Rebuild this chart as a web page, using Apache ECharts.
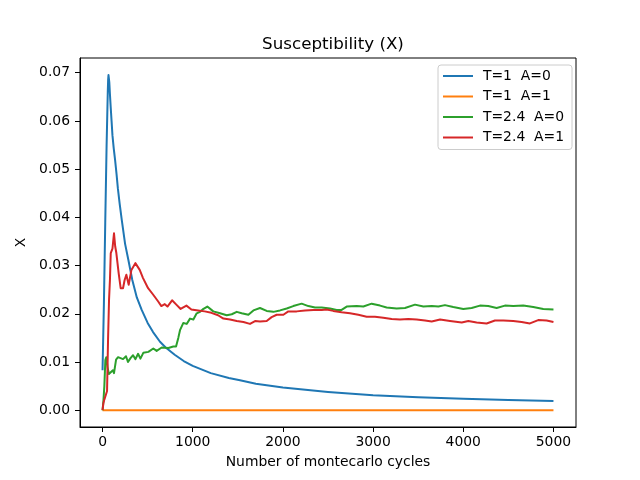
<!DOCTYPE html>
<html>
<head>
<meta charset="utf-8">
<script src="https://cdn.jsdelivr.net/npm/echarts@6/dist/echarts.min.js"></script>
<style>html,body{margin:0;padding:0;background:#fff}#c{width:640px;height:480px}</style>
</head>
<body>
<div id="c"></div>
<script>
var seriesNames = ['T=1  A=0', 'T=1  A=1', 'T=2.4  A=0', 'T=2.4  A=1'];
var xTicks = [0, 1000, 2000, 3000, 4000, 5000];
var yTicks = [0, 0.01, 0.02, 0.03, 0.04, 0.05, 0.06, 0.07];

var blueX = [0, 15, 30, 45, 58, 62, 66, 70, 75, 82, 90, 100, 110, 124, 139, 155, 170, 190, 213, 250, 286, 330, 380, 434, 500, 560, 637, 700, 800, 900, 1000, 1200, 1400, 1524, 1700, 2000, 2500, 3000, 3500, 4000, 4500, 5000];
var blueY = [0.0083, 0.022, 0.039, 0.055, 0.066, 0.0685, 0.0695, 0.0692, 0.068, 0.0655, 0.063, 0.060, 0.057, 0.0543, 0.0519, 0.049, 0.046, 0.0428, 0.0395, 0.0345, 0.0312, 0.0270, 0.0234, 0.0208, 0.0181, 0.0162, 0.0142, 0.0130, 0.0115, 0.0102, 0.0092, 0.0077, 0.0067, 0.0062, 0.0055, 0.0047, 0.0038, 0.0031, 0.0027, 0.0024, 0.0021, 0.0019];

var orangeX = [0, 1000, 2000, 3000, 4000, 5000];
var orangeY = [0, 0, 0, 0, 0, 0];

var greenX = [0, 10, 20, 31, 42, 55, 70, 91, 115, 127, 150, 172, 194, 227, 260, 282, 310, 338, 365, 394, 420, 452, 508, 563, 600, 656, 730, 785, 815, 840, 859, 896, 933, 970, 1007, 1044, 1081, 1110, 1162, 1228, 1303, 1377, 1433, 1488, 1543, 1617, 1673, 1746, 1820, 1894, 1968, 2042, 2115, 2208, 2282, 2356, 2430, 2522, 2596, 2651, 2707, 2818, 2892, 2984, 3077, 3150, 3261, 3354, 3465, 3557, 3650, 3724, 3797, 3889, 4000, 4093, 4185, 4277, 4370, 4462, 4554, 4665, 4776, 4887, 5000];
var greenY = [0, 0.002, 0.005, 0.0104, 0.011, 0.009, 0.0075, 0.0077, 0.0083, 0.0077, 0.0105, 0.011, 0.0113, 0.0106, 0.0112, 0.0100, 0.0108, 0.0114, 0.0106, 0.0117, 0.0107, 0.0119, 0.0121, 0.0128, 0.0123, 0.0130, 0.0129, 0.0132, 0.0132, 0.0150, 0.0166, 0.0181, 0.0179, 0.0190, 0.0188, 0.0201, 0.0204, 0.0209, 0.0215, 0.0205, 0.0201, 0.0197, 0.0199, 0.0204, 0.0201, 0.0198, 0.0207, 0.0212, 0.0206, 0.0204, 0.0207, 0.0211, 0.0216, 0.0221, 0.0216, 0.0213, 0.0213, 0.0211, 0.0208, 0.0208, 0.0215, 0.0216, 0.0215, 0.0221, 0.0217, 0.0213, 0.0211, 0.0212, 0.0219, 0.0215, 0.0216, 0.0215, 0.0218, 0.0214, 0.0210, 0.0212, 0.0217, 0.0216, 0.0212, 0.0217, 0.0216, 0.0217, 0.0214, 0.0210, 0.0209];

var redX = [0, 10, 20, 35, 50, 61, 72, 82, 91, 100, 110, 127, 140, 153, 179, 201, 227, 245, 264, 290, 320, 364, 412, 449, 505, 560, 615, 652, 690, 720, 771, 818, 866, 930, 985, 1059, 1133, 1207, 1281, 1340, 1414, 1488, 1562, 1635, 1654, 1691, 1746, 1820, 1875, 1931, 2005, 2060, 2153, 2245, 2338, 2430, 2485, 2559, 2651, 2744, 2836, 2929, 3021, 3113, 3206, 3298, 3391, 3483, 3576, 3650, 3743, 3853, 3983, 4056, 4148, 4259, 4351, 4444, 4554, 4647, 4739, 4831, 4924, 5000];
var redY = [0, 0.0015, 0.0022, 0.0018, 0.004, 0.0146, 0.0229, 0.027, 0.0326, 0.0322, 0.0335, 0.0367, 0.034, 0.0326, 0.0284, 0.0253, 0.0253, 0.027, 0.0281, 0.026, 0.0291, 0.0305, 0.0291, 0.0274, 0.0253, 0.024, 0.0226, 0.0216, 0.022, 0.0215, 0.0228, 0.0219, 0.021, 0.0217, 0.0209, 0.0207, 0.0205, 0.0202, 0.0197, 0.019, 0.0188, 0.0185, 0.0183, 0.0179, 0.0177, 0.0185, 0.0184, 0.0185, 0.0193, 0.0198, 0.0198, 0.0205, 0.0205, 0.0207, 0.0208, 0.0208, 0.0209, 0.0206, 0.0203, 0.0201, 0.0198, 0.0194, 0.0194, 0.0192, 0.0189, 0.0188, 0.0189, 0.0188, 0.0186, 0.0184, 0.0188, 0.0185, 0.0182, 0.0185, 0.0182, 0.0180, 0.0186, 0.0186, 0.0185, 0.0183, 0.0180, 0.0187, 0.0186, 0.0183];

var colors = ['#1f77b4', '#ff7f0e', '#2ca02c', '#d62728'];

function zip(xs, ys) {
  var out = [];
  for (var i = 0; i < xs.length; i++) out.push([xs[i], ys[i]]);
  return out;
}
var allData = [zip(blueX, blueY), zip(orangeX, orangeY), zip(greenX, greenY), zip(redX, redY)];

var FONT = 'DejaVu Sans';
var chart = echarts.init(document.getElementById('c'), null, {renderer: 'canvas'});
chart.setOption({
  animation: false,
  color: colors,
  textStyle: {fontFamily: FONT},
  title: {
    text: 'Susceptibility (X)',
    left: 328, top: 31, textAlign: 'center',
    textStyle: {fontFamily: FONT, fontSize: 16.7, fontWeight: 'normal', color: '#000'}
  },
  legend: {
    orient: 'vertical',
    left: 438, top: 65,
    width: 132,
    padding: [4, 8, 5, 5],
    icon: 'rect',
    itemWidth: 30, itemHeight: 2, itemGap: 6.5,
    backgroundColor: '#fff',
    borderColor: '#cccccc', borderWidth: 1, borderRadius: 3,
    textStyle: {fontFamily: FONT, fontSize: 13.9, color: '#000', padding: [0, 0, 0, 5]},
    data: seriesNames
  },
  grid: {
    left: 80, right: 64, top: 58, bottom: 53,
    show: true, borderColor: '#000', borderWidth: 1, backgroundColor: 'transparent'
  },
  xAxis: {
    type: 'value', min: -250, max: 5250,
    name: 'Number of montecarlo cycles', nameLocation: 'middle', nameGap: 28,
    nameTextStyle: {fontFamily: FONT, fontSize: 13.9, color: '#000'},
    axisLine: {show: true, onZero: false, lineStyle: {color: '#000', width: 1}},
    axisTick: {show: true, length: 5, lineStyle: {color: '#000'}, customValues: xTicks},
    axisLabel: {fontFamily: FONT, fontSize: 13.9, color: '#000', margin: 8, customValues: xTicks,
      formatter: function (v) { return String(Math.round(v)); }},
    splitLine: {show: false}
  },
  yAxis: {
    type: 'value', min: -0.00348, max: 0.07305,
    name: 'X', nameLocation: 'middle', nameGap: 48,
    nameTextStyle: {fontFamily: FONT, fontSize: 13.9, color: '#000'},
    axisLine: {show: true, onZero: false, lineStyle: {color: '#000', width: 1}},
    axisTick: {show: true, length: 5, lineStyle: {color: '#000'}, customValues: yTicks},
    axisLabel: {fontFamily: FONT, fontSize: 13.9, color: '#000', margin: 10, customValues: yTicks,
      formatter: function (v) { return v.toFixed(2); }},
    splitLine: {show: false}
  },
  series: seriesNames.map(function (n, i) {
    return {
      name: n, type: 'line', data: allData[i],
      symbol: 'none', showSymbol: false, smooth: false,
      lineStyle: {width: 2, color: colors[i], join: 'round'},
      itemStyle: {color: colors[i]}
    };
  })
});
</script>
</body>
</html>
